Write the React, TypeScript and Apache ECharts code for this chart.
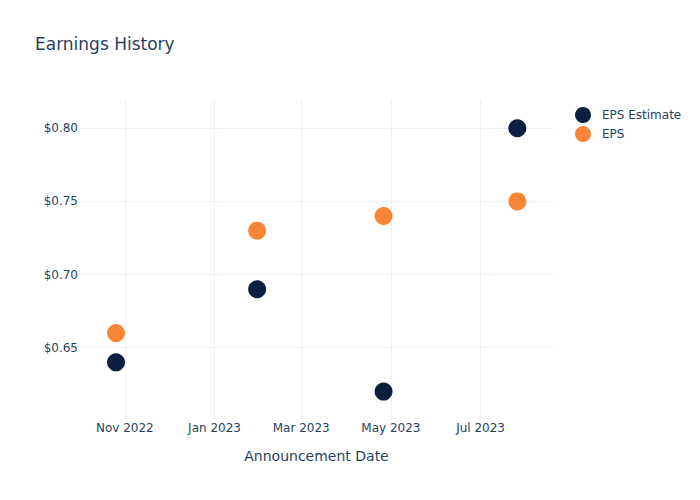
import React, { useEffect, useRef } from "react";
import * as echarts from "echarts";

const announcementDates = ["2022-10-26", "2023-01-30", "2023-04-26", "2023-07-26"];
const epsEstimate = [0.64, 0.69, 0.62, 0.8];
const epsActual = [0.66, 0.73, 0.74, 0.75];
const xTickDates = ["2022-11-01", "2023-01-01", "2023-03-01", "2023-05-01", "2023-07-01"];
const yTickValues = [0.65, 0.7, 0.75, 0.8];
const monthNames = ["Jan", "Feb", "Mar", "Apr", "May", "Jun", "Jul", "Aug", "Sep", "Oct", "Nov", "Dec"];

const FONT = '"DejaVu Sans", verdana, arial, sans-serif';
const TEXT = "#2a3f5f";
const GRID = "#ebf0f8";

const ts = (s: string) => {
  const [y, m, d] = s.split("-").map(Number);
  return Date.UTC(y, m - 1, d);
};

export default function App() {
  const ref = useRef<HTMLDivElement>(null);
  useEffect(() => {
    if (!ref.current) return;
    const chart = echarts.init(ref.current, undefined, { renderer: "svg" });
    const xTicks = xTickDates.map(ts);
    chart.setOption({
      animation: false,
      backgroundColor: "#fff",
      textStyle: { fontFamily: FONT },
      title: {
        text: "Earnings History",
        left: 35,
        top: 35,
        padding: 0,
        textStyle: { fontFamily: FONT, fontSize: 17, fontWeight: "normal", color: TEXT },
      },
      legend: {
        orient: "vertical",
        left: 575,
        top: 107,
        padding: 0,
        itemWidth: 28,
        itemHeight: 16,
        itemGap: 3,
        icon: "circle",
        textStyle: { fontFamily: FONT, fontSize: 12, color: TEXT },
        data: ["EPS Estimate", "EPS"],
      },
      grid: { left: 80, right: 147, top: 100, bottom: 80, containLabel: false },
      xAxis: {
        type: "value",
        scale: true,
        min: Date.UTC(2022, 9, 1, 12),
        max: Date.UTC(2023, 7, 19, 6),
        name: "Announcement Date",
        nameLocation: "middle",
        nameGap: 29,
        nameTextStyle: { fontFamily: FONT, fontSize: 14, color: TEXT },
        axisLine: { show: false },
        axisTick: { show: false, customValues: xTicks },
        axisLabel: {
          customValues: xTicks,
          margin: 2,
          fontFamily: FONT,
          fontSize: 12,
          color: TEXT,
          formatter: (v: number) => {
            const d = new Date(v);
            return monthNames[d.getUTCMonth()] + " " + d.getUTCFullYear();
          },
        },
        splitLine: { show: true, lineStyle: { color: GRID, width: 1 } },
      },
      yAxis: {
        type: "value",
        scale: true,
        min: 0.6006,
        max: 0.8193,
        axisLine: { show: false },
        axisTick: { show: false, customValues: yTickValues },
        axisLabel: {
          customValues: yTickValues,
          margin: 2,
          fontFamily: FONT,
          fontSize: 12,
          color: TEXT,
          formatter: (v: number) => "$" + v.toFixed(2),
        },
        splitLine: { show: true, lineStyle: { color: GRID, width: 1 } },
      },
      series: [
        {
          name: "EPS Estimate",
          type: "scatter",
          symbol: "circle",
          symbolSize: 18,
          itemStyle: { color: "#0b1f40", opacity: 1 },
          data: announcementDates.map((d, i) => [ts(d), epsEstimate[i]]),
        },
        {
          name: "EPS",
          type: "scatter",
          symbol: "circle",
          symbolSize: 18,
          itemStyle: { color: "#f98636", opacity: 1 },
          data: announcementDates.map((d, i) => [ts(d), epsActual[i]]),
        },
      ],
    });
    return () => chart.dispose();
  }, []);
  return <div ref={ref} style={{ width: 700, height: 500, margin: -8 }} />;
}
